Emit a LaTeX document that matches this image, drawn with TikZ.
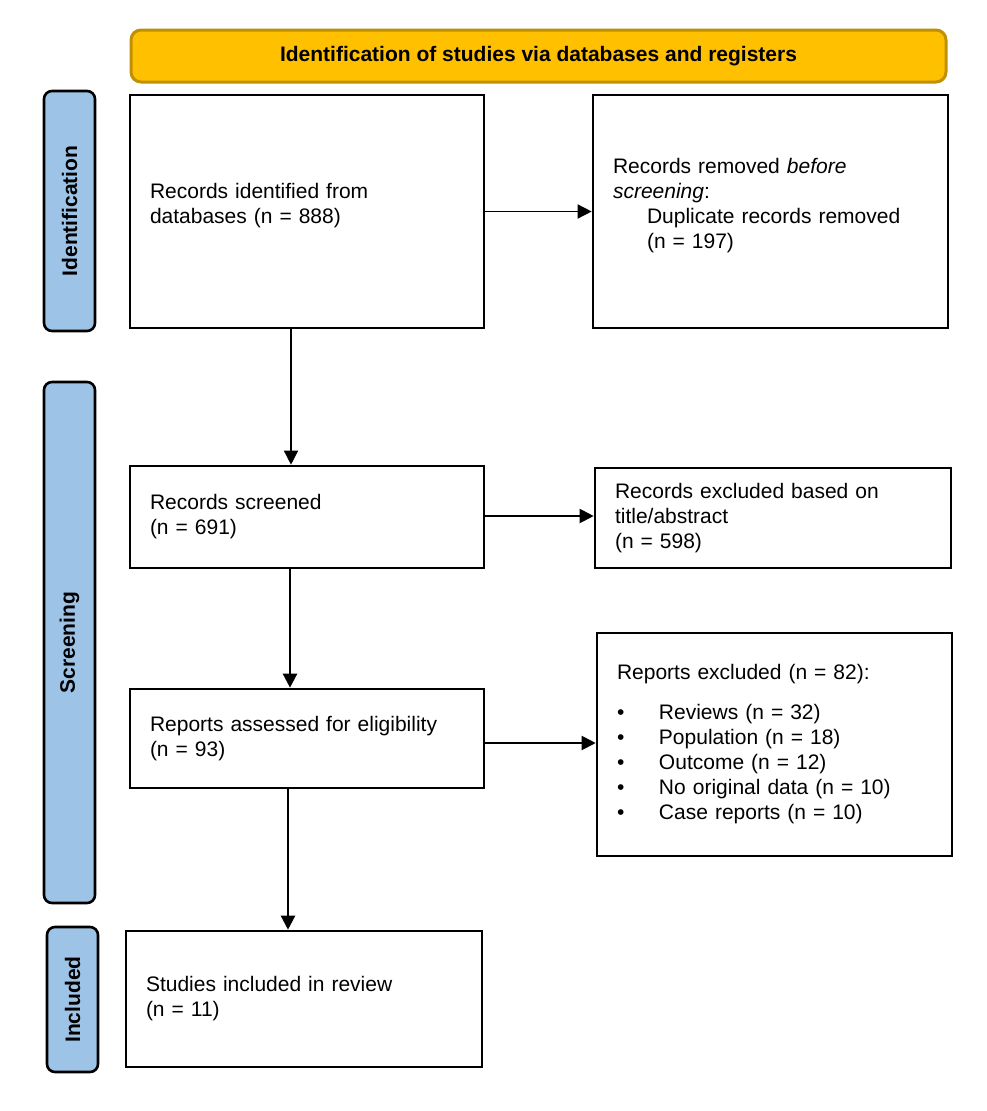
\documentclass[tikz,border=0pt]{standalone}
\usepackage{fontspec}
\setmainfont{Liberation Sans}
\usetikzlibrary{arrows.meta}
\definecolor{bannerfill}{HTML}{FFC000}
\definecolor{bannerline}{HTML}{BF9000}
\definecolor{sidefill}{HTML}{9DC3E6}
\begin{document}
\begin{tikzpicture}[x=1pt,y=-1pt,
  every node/.style={font=\fontsize{21}{25}\selectfont},
  box/.style={draw, line width=2.6pt, fill=white, rectangle, inner xsep=20pt, inner ysep=0pt, align=left},
  side/.style={draw, line width=2.6pt, fill=sidefill, rounded corners=8pt, rotate=90,
     font=\fontsize{21}{25}\selectfont\bfseries, inner sep=0pt},
  banner/.style={draw=bannerline, line width=3pt, fill=bannerfill, rounded corners=10pt,
     font=\fontsize{21}{25}\selectfont\bfseries, inner sep=0pt},
  arr/.style={-{Triangle[length=14pt,width=14pt]}, line width=2pt},
  thinarr/.style={arr, line width=1.4pt}
]
\useasboundingbox[fill=white] (0,0) rectangle (986,1111);

% banner
\node[banner, minimum width=815pt, minimum height=52pt] (ban) at (538.5,56)
  {Identification of studies via databases and registers};

% side bars
\node[side, minimum width=240pt, minimum height=51pt] (sid) at (69.5,211) {Identification};
\node[side, minimum width=521pt, minimum height=51pt] (sscr) at (69.5,642.5) {Screening};
\node[side, minimum width=145pt, minimum height=51pt] (sinc) at (72.5,999.5) {Included};

% boxes
\node[box, text width=314pt, minimum width=354pt, minimum height=233pt] (b1) at (307,211.5)
  {Records identified from\\databases (n = 888)\\[-8pt]\mbox{}};
\node[box, text width=315pt, minimum width=355pt, minimum height=233pt] (b2) at (770.5,211.5)
  {Records removed \textit{before}\\\textit{screening}:\\\hspace*{34pt}Duplicate records removed\\\hspace*{34pt}(n = 197)\\[-8pt]\mbox{}};
\node[box, text width=314pt, minimum width=354pt, minimum height=102pt] (b3) at (307,517)
  {Records screened\\(n = 691)};
\node[box, text width=316pt, minimum width=356pt, minimum height=100pt] (b4) at (773,518)
  {Records excluded based on\\title/abstract\\(n = 598)};
\node[box, text width=314pt, minimum width=354pt, minimum height=99pt] (b5) at (307,738.5)
  {Reports assessed for eligibility\\(n = 93)};
\node[box, text width=315pt, minimum width=355pt, minimum height=223pt] (b6) at (774.5,744.5)
  {Reports excluded (n = 82):\\[15pt]
   \makebox[42pt][l]{\textbullet}Reviews (n = 32)\\
   \makebox[42pt][l]{\textbullet}Population (n = 18)\\
   \makebox[42pt][l]{\textbullet}Outcome (n = 12)\\
   \makebox[42pt][l]{\textbullet}No original data (n = 10)\\
   \makebox[42pt][l]{\textbullet}Case reports (n = 10)};
\node[box, text width=316pt, minimum width=356pt, minimum height=136pt] (b7) at (304,999)
  {Studies included in review\\(n = 11)};

% connector positions
\coordinate (xa) at (291,0);
\coordinate (xb) at (290,0);
\coordinate (xc) at (288,0);
\coordinate (ya) at (0,516);
\coordinate (yb) at (0,743);

% connectors
\draw[thinarr] (b1.east) -- (b2.west);
\draw[thinarr] (xa |- b1.south) -- (xa |- b3.north);
\draw[arr] (ya -| b3.east) -- (ya -| b4.west);
\draw[arr, line width=2.4pt] (xb |- b3.south) -- (xb |- b5.north);
\draw[arr] (yb -| b5.east) -- (yb -| b6.west);
\draw[arr, line width=2.4pt] (xc |- b5.south) -- (xc |- b7.north);
\end{tikzpicture}
\end{document}
